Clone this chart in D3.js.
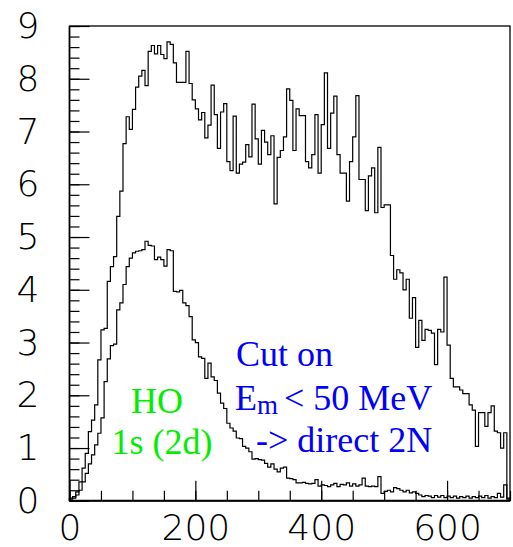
<!DOCTYPE html>
<html>
<head>
<meta charset="utf-8">
<script src="https://cdn.jsdelivr.net/npm/d3@7"></script>
<style>
  html, body { margin: 0; padding: 0; background: #fff; }
  svg { display: block; }
  .tick text { font-family: "DejaVu Sans", sans-serif; font-weight: 200; font-size: 36px; fill: #000; }
  .lbl { font-family: "Liberation Serif", "Times New Roman", Times, serif; font-size: 36px; }
</style>
</head>
<body>
<div id="chart"></div>
<script>
// ---------- data ----------
const xRange = [0, 700];      // histogram range
const binWidth = 5;           // 140 bins
const yRange = [0, 9];
const xMajorTicks = [0, 200, 400, 600];
const yMajorTicks = [0, 1, 2, 3, 4, 5, 6, 7, 8, 9];

// all events (upper histogram)
const upperCounts = [
  0.05,0.08,0.17,0.36,0.62,0.9,1.31,1.53,1.82,2.67,
  3.24,3.27,4.16,4.44,4.63,5.39,5.87,6.77,7.28,7.04,
  7.42,7.84,8.05,8.16,7.87,8.52,8.63,8.47,8.63,8.46,
  8.38,8.7,8.65,8.3,7.93,7.93,7.93,8.52,7.91,7.6,
  7.43,7.22,7.36,6.88,7.12,7.88,7.32,6.68,7.37,7.53,
  6.43,6.26,7.29,6.21,6.38,6.42,6.75,6.52,7.52,6.86,
  6.38,7.02,6.8,6.56,6.92,5.63,6.51,6.64,6.9,7.81,
  7.59,6.64,7.43,7.3,7.3,6.43,6.31,6.56,7.32,6.21,
  7.13,8.11,6.68,7.35,7.67,6.56,6.21,6.21,5.68,6.43,
  6.9,7.68,6.09,6.09,5.5,6.16,6.31,5.46,6.7,5.56,
  5.61,5.61,4.65,4.2,4.38,4.32,4.0,4.2,3.46,3.85,
  2.91,3.42,3.04,3.25,3.23,3.18,2.58,3.25,3.2,4.24,
  2.95,2.32,2.16,2.16,2.1,2.03,2.03,1.82,1.72,1.03,
  1.67,1.67,1.41,1.67,1.8,1.32,1.29,1.0,1.29,0.05
];

// HO 1s (2d) model (lower histogram)
const lowerCounts = [
  0.03,0.05,0.11,0.2,0.36,0.52,0.7,0.87,1.06,1.28,
  1.57,2.26,2.69,2.94,2.97,3.62,3.75,4.1,4.44,4.6,
  4.7,4.73,4.74,4.76,4.92,4.84,4.83,4.57,4.62,4.57,
  4.45,4.76,4.74,3.97,3.96,3.99,3.75,3.7,3.49,3.05,
  3.0,2.73,2.7,2.32,2.61,2.35,2.28,2.04,1.85,1.75,
  1.47,1.38,1.32,1.19,1.18,1.03,1.0,0.93,0.79,0.8,
  0.78,0.77,0.71,0.64,0.7,0.6,0.55,0.62,0.64,0.43,
  0.42,0.4,0.34,0.34,0.35,0.33,0.32,0.33,0.4,0.28,
  0.3,0.29,0.27,0.3,0.33,0.27,0.31,0.3,0.34,0.28,
  0.32,0.28,0.3,0.43,0.28,0.27,0.28,0.27,0.46,0.14,
  0.18,0.2,0.17,0.25,0.23,0.2,0.17,0.2,0.15,0.17,
  0.14,0.11,0.08,0.1,0.09,0.06,0.1,0.07,0.1,0.06,
  0.09,0.06,0.09,0.05,0.08,0.06,0.09,0.05,0.08,0.06,
  0.09,0.06,0.1,0.05,0.08,0.06,0.14,0.07,0.3,0.03
];

const greenLines = ["HO", "1s (2d)"];
const blueLine1 = "Cut on";
const blueLine2 = { main: "E", sub: "m", rest: "< 50 MeV" };
const blueLine3 = "-> direct 2N";

// ---------- layout ----------
const W = 513, H = 547;
const plot = { left: 69.5, right: 510, top: 26, bottom: 500.8 };

const svg = d3.select("#chart").append("svg")
  .attr("width", W).attr("height", H);

const x = d3.scaleLinear().domain(xRange).range([plot.left, plot.right]);
const y = d3.scaleLinear().domain(yRange).range([plot.bottom, plot.top]);

// ---------- histograms ----------
function stepPoints(counts) {
  const pts = [[xRange[0], 0]];
  counts.forEach((v, i) => {
    const x0 = xRange[0] + i * binWidth;
    pts.push([x0, v], [x0 + binWidth, v]);
  });
  pts.push([xRange[0] + counts.length * binWidth, 0]);
  return pts;
}
const line = d3.line().x(d => x(d[0])).y(d => y(d[1]));

[upperCounts, lowerCounts].forEach(c => {
  svg.append("path")
    .attr("d", line(stepPoints(c)))
    .attr("fill", "none")
    .attr("stroke", "#000")
    .attr("stroke-width", 1.2);
});

// ---------- axes ----------
const yMinor = d3.range(0, 9.0001, 0.2);
const xMinor = d3.range(0, 700.001, 50);

svg.append("g").attr("transform", `translate(${plot.left},0)`)
  .call(d3.axisLeft(y).tickValues(yMinor).tickSizeInner(-10).tickSizeOuter(0).tickFormat(""))
  .call(g => g.select(".domain").remove())
  .call(g => g.selectAll("line").attr("stroke", "#000").attr("stroke-width", 1.2));

svg.append("g").attr("transform", `translate(${plot.left},0)`)
  .call(d3.axisLeft(y).tickValues(yMajorTicks).tickSizeInner(-20).tickSizeOuter(0).tickPadding(30))
  .call(g => g.select(".domain").remove())
  .call(g => g.selectAll("line").attr("stroke", "#000").attr("stroke-width", 1.2))
  .call(g => g.selectAll("text").attr("font-size", null).attr("font-family", null));

svg.append("g").attr("transform", `translate(0,${plot.bottom})`)
  .call(d3.axisBottom(x).tickValues(xMinor).tickSizeInner(-10).tickSizeOuter(0).tickFormat(""))
  .call(g => g.select(".domain").remove())
  .call(g => g.selectAll("line").attr("stroke", "#000").attr("stroke-width", 1.2));

svg.append("g").attr("transform", `translate(0,${plot.bottom})`)
  .call(d3.axisBottom(x).tickValues(xMajorTicks).tickSizeInner(-20).tickSizeOuter(0).tickPadding(14))
  .call(g => g.select(".domain").remove())
  .call(g => g.selectAll("line").attr("stroke", "#000").attr("stroke-width", 1.2))
  .call(g => g.selectAll("text").attr("font-size", null).attr("font-family", null));

// frame
svg.append("rect")
  .attr("x", plot.left).attr("y", plot.top)
  .attr("width", plot.right - plot.left).attr("height", plot.bottom - plot.top)
  .attr("fill", "none").attr("stroke", "#000").attr("stroke-width", 1.3);
svg.append("line")
  .attr("x1", plot.left).attr("x2", plot.right).attr("y1", plot.bottom).attr("y2", plot.bottom)
  .attr("stroke", "#000").attr("stroke-width", 2);
svg.append("line")
  .attr("x1", plot.left).attr("x2", plot.left).attr("y1", plot.top).attr("y2", plot.bottom)
  .attr("stroke", "#000").attr("stroke-width", 1.6);

// ---------- labels ----------
const green = "#00ee00", blue = "#0000ff";
svg.append("text").attr("class", "lbl").attr("fill", green)
  .attr("x", 157).attr("y", 413).attr("text-anchor", "middle").text(greenLines[0]);
svg.append("text").attr("class", "lbl").attr("fill", green)
  .attr("x", 162).attr("y", 454).attr("text-anchor", "middle").text(greenLines[1]);

svg.append("text").attr("class", "lbl").attr("fill", blue)
  .attr("x", 236).attr("y", 366).text(blueLine1);
const t2 = svg.append("text").attr("class", "lbl").attr("fill", blue)
  .attr("x", 235).attr("y", 410);
t2.append("tspan").text(blueLine2.main);
t2.append("tspan").attr("dy", 4).attr("font-size", "27px").text(blueLine2.sub);
t2.append("tspan").attr("dy", -4).attr("dx", 6).text(blueLine2.rest);
svg.append("text").attr("class", "lbl").attr("fill", blue)
  .attr("x", 256).attr("y", 452).text(blueLine3);
</script>
</body>
</html>
